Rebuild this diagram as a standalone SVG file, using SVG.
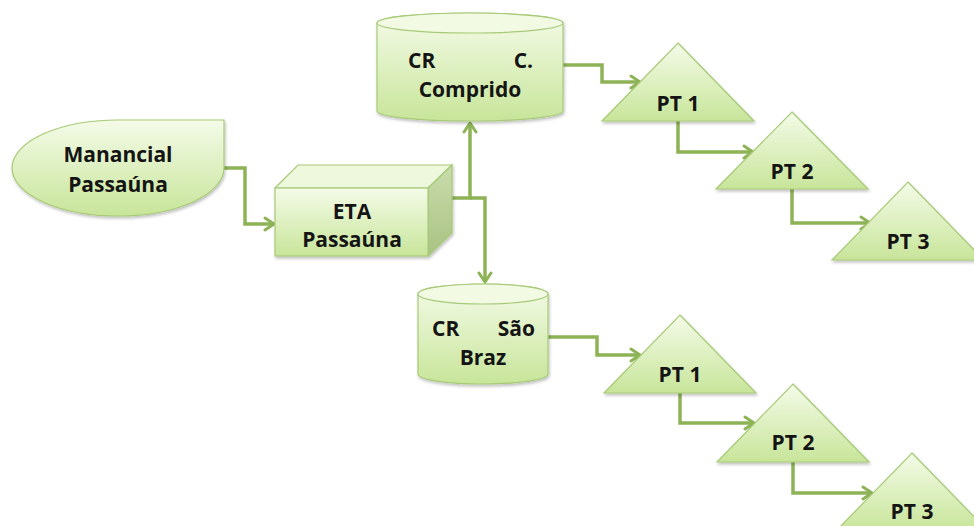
<svg xmlns="http://www.w3.org/2000/svg" width="974" height="526" viewBox="0 0 974 526">
<defs>
<linearGradient id="g" x1="0" y1="0" x2="0" y2="1">
<stop offset="0" stop-color="#f4fbe8"/>
<stop offset="1" stop-color="#c8e59a"/>
</linearGradient>
<linearGradient id="gs" x1="0" y1="0" x2="0" y2="1">
<stop offset="0" stop-color="#c9dcab"/>
<stop offset="1" stop-color="#a9c283"/>
</linearGradient>
<filter id="sh" x="-10%" y="-10%" width="130%" height="130%">
<feDropShadow dx="1" dy="2" stdDeviation="1.5" flood-color="#000" flood-opacity="0.25"/>
</filter>
<marker id="ar" markerUnits="userSpaceOnUse" markerWidth="16" markerHeight="16" refX="13" refY="8" orient="auto">
<path d="M4,2 L13,8 L4,14" fill="none" stroke="#8db356" stroke-width="3" stroke-linecap="round" stroke-linejoin="round"/>
</marker>
</defs>
<style>
.s{fill:url(#g);stroke:#a7ca77;stroke-width:1.2;filter:url(#sh)}
.t{font-family:"Open Sans","Liberation Sans",sans-serif;font-weight:700;font-size:21px;fill:#141414;text-anchor:middle}
.tl{text-anchor:start}
.te{text-anchor:end}
.c{fill:none;stroke:#8db356;stroke-width:3.5;marker-end:url(#ar)}
</style>
<g id="connectors">
<path class="c" d="M224,168 H245 V224 H274"/>
<path class="c" d="M452,198 H470 V123"/>
<path class="c" d="M470,198 H485 V282"/>
<path class="c" d="M563,65 H602 V82 H640"/>
<path class="c" d="M678,121 V152 H753"/>
<path class="c" d="M792,189 V223 H870"/>
<path class="c" d="M548,337 H597 V355 H640"/>
<path class="c" d="M680,393 V423 H754"/>
<path class="c" d="M793,462 V493 H872"/>
</g>
<g id="manancial">
<path class="s" d="M118,120 H224 V168 A106,48 0 0 1 118,216 A106,48 0 0 1 12,168 A106,48 0 0 1 118,120 Z"/>
<text class="t" x="118" y="162">Manancial</text>
<text class="t" x="118" y="192">Passaúna</text>
</g>
<g id="eta">
<g filter="url(#sh)">
<path d="M275,188 L298,165 H452 L428,188 Z" fill="#eef8dc" stroke="#a7ca77" stroke-width="1.2"/>
<path d="M428,188 L452,165 V233 L428,256 Z" fill="url(#gs)" stroke="#a7ca77" stroke-width="1.2"/>
<rect x="275" y="188" width="153" height="68" fill="url(#g)" stroke="#a7ca77" stroke-width="1.2"/>
</g>
<text class="t" x="352" y="219">ETA</text>
<text class="t" x="352" y="247">Passaúna</text>
</g>
<g id="cr-comprido">
<path class="s" d="M377,23 A93,10 0 0 1 563,23 V111 A93,10 0 0 1 377,111 Z"/>
<ellipse cx="470" cy="23" rx="93" ry="10" fill="#f2fae4" stroke="#a7ca77" stroke-width="1.2"/>
<text class="t tl" x="408" y="68">CR</text>
<text class="t te" x="533" y="68">C.</text>
<text class="t" x="470" y="97">Comprido</text>
</g>
<g id="cr-saobraz">
<path class="s" d="M418,294 A65,10 0 0 1 548,294 V374 A65,10 0 0 1 418,374 Z"/>
<ellipse cx="483" cy="294" rx="65" ry="10" fill="#f2fae4" stroke="#a7ca77" stroke-width="1.2"/>
<text class="t tl" x="432" y="336">CR</text>
<text class="t te" x="535" y="336">São</text>
<text class="t" x="483" y="365">Braz</text>
</g>
<g id="pt1-a">
<path class="s" d="M678,43 L754,121 H602 Z"/>
<text class="t" x="678" y="111">PT 1</text>
</g>
<g id="pt2-a">
<path class="s" d="M792,112 L868,189 H716 Z"/>
<text class="t" x="792" y="179">PT 2</text>
</g>
<g id="pt3-a">
<path class="s" d="M908,182 L984,260 H832 Z"/>
<text class="t" x="908" y="249">PT 3</text>
</g>
<g id="pt1-b">
<path class="s" d="M680,315 L756,393 H604 Z"/>
<text class="t" x="680" y="382">PT 1</text>
</g>
<g id="pt2-b">
<path class="s" d="M793,384 L869,462 H717 Z"/>
<text class="t" x="793" y="450">PT 2</text>
</g>
<g id="pt3-b">
<path class="s" d="M912,453 L988,531 H836 Z"/>
<text class="t" x="912" y="519">PT 3</text>
</g>
</svg>
